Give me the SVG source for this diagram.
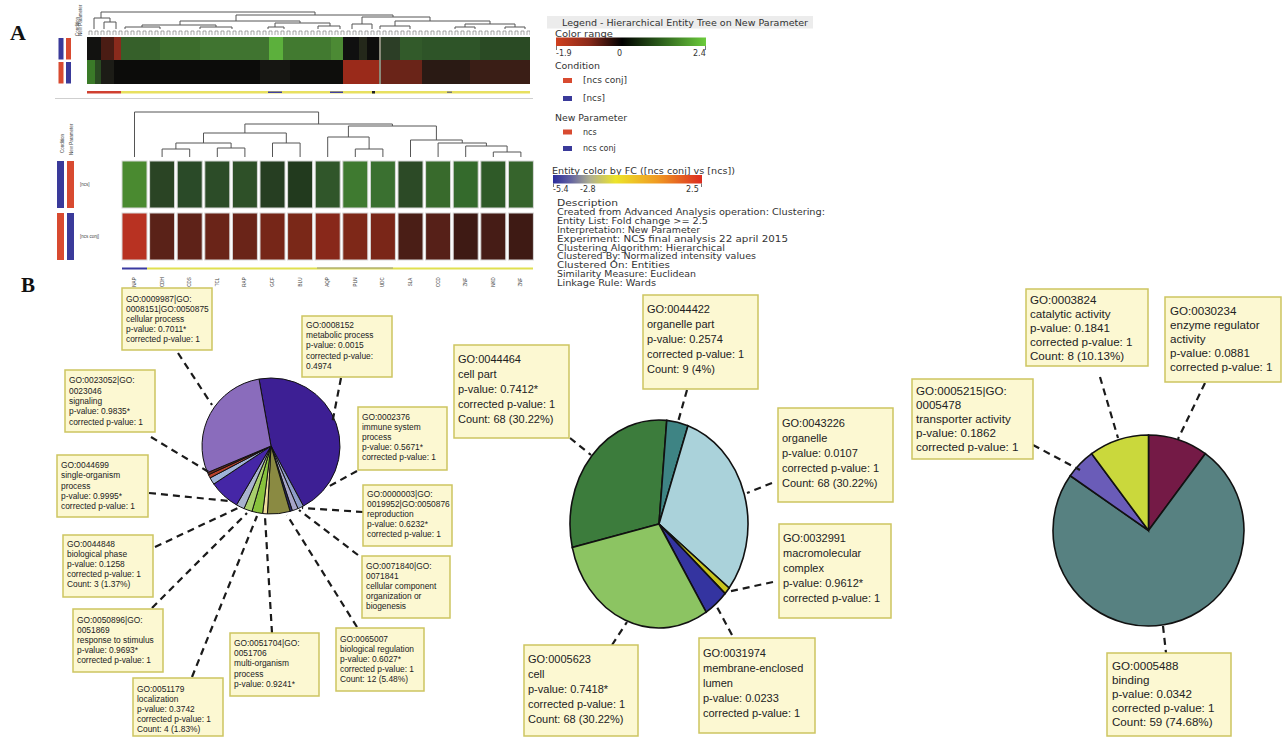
<svg xmlns="http://www.w3.org/2000/svg" width="1282" height="737" viewBox="0 0 1282 737">
<defs>
<linearGradient id="gRange" x1="0" x2="1" y1="0" y2="0">
<stop offset="0" stop-color="#d0401f"/><stop offset="0.22" stop-color="#8a2a1a"/><stop offset="0.44" stop-color="#000"/><stop offset="0.7" stop-color="#2c5e1c"/><stop offset="1" stop-color="#6ccc3c"/>
</linearGradient>
<linearGradient id="gFC" x1="0" x2="1" y1="0" y2="0">
<stop offset="0" stop-color="#2c2c9c"/><stop offset="0.12" stop-color="#6464a0"/><stop offset="0.25" stop-color="#b0b090"/><stop offset="0.42" stop-color="#ece42a"/><stop offset="0.7" stop-color="#f09a22"/><stop offset="1" stop-color="#dc2c20"/>
</linearGradient>
<pattern id="forks" x="88" y="29" width="6" height="6" patternUnits="userSpaceOnUse">
<path d="M1,6 V2 H4 V6" stroke="#6a6a6a" fill="none" stroke-width="0.6"/>
</pattern>
</defs>
<style>
.lbl{font-family:"Liberation Serif","Times New Roman",serif;font-weight:bold;fill:#111}
.leg{font-family:"DejaVu Sans","Liberation Sans",sans-serif;font-size:8px;fill:#333}
.tiny{font-family:"Liberation Sans",Arial,sans-serif;font-size:4.5px;fill:#444}
.dend{stroke:#555;fill:none;stroke-width:1}
.box{fill:#fcf8d2;stroke:#cdc560;stroke-width:1.5}
.t1{font-family:"Liberation Sans",Arial,sans-serif;font-size:8.4px;fill:#222}
.t2{font-family:"Liberation Sans",Arial,sans-serif;font-size:11px;fill:#222}
.t3{font-family:"Liberation Sans",Arial,sans-serif;font-size:11.6px;fill:#222}
.dash{stroke:#1a1a1a;stroke-width:2.2;stroke-dasharray:7 5;fill:none}
.sl{stroke:#111;stroke-width:1}
.sl2{stroke:#111;stroke-width:1.6}
.cell{stroke:#d8d8d8;stroke-width:1}
</style>
<rect width="1282" height="737" fill="#fff"/>

<!-- Panel A top heatmap -->
<g id="panelA-label"><text class="lbl" x="10" y="40" font-size="22">A</text></g>
<g id="top-heatmap">
<rect x="58.5" y="38" width="5" height="21.5" fill="#3a3a9a"/>
<rect x="66" y="38" width="5" height="21.5" fill="#d84a30"/>
<rect x="58.5" y="62" width="5" height="21.5" fill="#d84a30"/>
<rect x="66" y="62" width="5" height="21.5" fill="#3a3a9a"/>
<text class="tiny" font-size="3.2" transform="translate(78.5,36) rotate(-90)">Condition</text>
<text class="tiny" font-size="3.2" transform="translate(82,36) rotate(-90)">New Parameter</text>
<!-- row 1 -->
<rect x="87" y="37" width="14" height="23" fill="#121210"/>
<rect x="101" y="37" width="13" height="23" fill="#4a1c14"/>
<rect x="114" y="37" width="7" height="23" fill="#8a2a1c"/>
<rect x="121" y="37" width="39" height="23" fill="#36602a"/>
<rect x="160" y="37" width="40" height="23" fill="#3c6c2c"/>
<rect x="200" y="37" width="69" height="23" fill="#407430"/>
<rect x="269" y="37" width="14" height="23" fill="#5cb03c"/>
<rect x="283" y="37" width="48" height="23" fill="#427a30"/>
<rect x="331" y="37" width="12" height="23" fill="#4c8a34"/>
<rect x="343" y="37" width="16" height="23" fill="#101010"/>
<rect x="359" y="37" width="8" height="23" fill="#24281a"/>
<rect x="367" y="37" width="12" height="23" fill="#0e0e0c"/>
<rect x="379" y="37" width="2" height="47" fill="#8a8a7a"/>
<rect x="381" y="37" width="19" height="23" fill="#2c3e26"/>
<rect x="400" y="37" width="22" height="23" fill="#325a2a"/>
<rect x="422" y="37" width="58" height="23" fill="#2e5428"/>
<rect x="480" y="37" width="50" height="23" fill="#2a4a24"/>
<!-- row 2 -->
<rect x="87" y="60" width="8" height="24" fill="#3a7a28"/>
<rect x="95" y="60" width="6" height="24" fill="#2a4a22"/>
<rect x="101" y="60" width="13" height="24" fill="#1c1c16"/>
<rect x="114" y="60" width="146" height="24" fill="#0c0c0a"/>
<rect x="260" y="60" width="30" height="24" fill="#161612"/>
<rect x="290" y="60" width="53" height="24" fill="#0e0e0c"/>
<rect x="343" y="60" width="36" height="24" fill="#9a2a1a"/>
<rect x="381" y="60" width="41" height="24" fill="#6a2418"/>
<rect x="422" y="60" width="48" height="24" fill="#2a1a14"/>
<rect x="470" y="60" width="60" height="24" fill="#3a1e16"/>
<!-- color bar -->
<rect x="87" y="91" width="34" height="2.5" fill="#d04030"/>
<rect x="121" y="91" width="409" height="2.5" fill="#e8e060"/>
<rect x="268" y="91.5" width="14" height="1.5" fill="#4040a0"/>
<rect x="330" y="91.5" width="13" height="1.5" fill="#4040a0"/>
<rect x="372" y="91" width="3" height="2.5" fill="#222"/>
<rect x="447" y="91.5" width="5" height="1.5" fill="#777"/>
<line x1="55" y1="98.5" x2="533" y2="98.5" stroke="#cfcfcf" stroke-width="1"/>
</g>
<g id="top-dendrogram">
<rect x="88" y="29" width="442" height="6" fill="url(#forks)"/>
<path class="dend" d="M101,18 V12 H315 V15 M94,29 V18 H110 V22 M104,29 V22 H116 V29 M236,21 V15 H393 V17 M180,25 V21 H300 V23 M142,27 V25 H216 V27 M125,29 V27 H160 V29 M200,29 V27 H232 V29 M275,27 V23 H330 V26 M268,29 V27 H284 V29 M318,29 V26 H340 V29 M362,24 V17 H430 V21 M352,29 V24 H372 V29 M395,26 V21 H490 V24 M380,29 V26 H410 V29 M465,27 V24 H515 V27 M455,29 V27 H475 V29 M505,29 V27 H525 V29"/>
</g>

<!-- Legend -->
<g id="legend">
<rect x="547" y="16" width="266" height="12.5" fill="#ececec"/>
<text class="leg" x="562" y="25.5" textLength="246" lengthAdjust="spacingAndGlyphs">Legend - Hierarchical Entity Tree on New Parameter</text>
<text class="leg" x="555" y="36.5" textLength="58" lengthAdjust="spacingAndGlyphs">Color range</text>
<rect x="556" y="37.5" width="150" height="8.5" fill="url(#gRange)"/>
<path d="M556.5,46 V50 M705.5,46 V50" stroke="#555" stroke-width="0.8"/>
<text class="leg" x="556" y="55.5">-1.9</text>
<text class="leg" x="617" y="55.5">0</text>
<text class="leg" x="693" y="55.5">2.4</text>
<text class="leg" x="555" y="69" textLength="45" lengthAdjust="spacingAndGlyphs">Condition</text>
<rect x="563" y="78" width="9" height="5" fill="#d84a30"/>
<text class="leg" x="583" y="83" textLength="44" lengthAdjust="spacingAndGlyphs">[ncs conj]</text>
<rect x="563" y="96" width="9" height="5" fill="#3a3a9a"/>
<text class="leg" x="583" y="101" textLength="22" lengthAdjust="spacingAndGlyphs">[ncs]</text>
<text class="leg" x="555" y="120.5" textLength="72" lengthAdjust="spacingAndGlyphs">New Parameter</text>
<rect x="563" y="129.5" width="9" height="5" fill="#d84a30"/>
<text class="leg" x="583" y="134.5">ncs</text>
<rect x="563" y="146" width="9" height="5" fill="#3a3a9a"/>
<text class="leg" x="583" y="151">ncs conj</text>
<text class="leg" x="552" y="173.5" textLength="183" lengthAdjust="spacingAndGlyphs">Entity color by FC ([ncs conj] vs [ncs])</text>
<rect x="553" y="175" width="149" height="8.5" fill="url(#gFC)"/>
<path d="M553.5,183.5 V187 M701.5,183.5 V187" stroke="#555" stroke-width="0.8"/>
<text class="leg" x="553" y="192">-5.4</text>
<text class="leg" x="580" y="192">-2.8</text>
<text class="leg" x="686" y="192">2.5</text>
<text class="leg" x="557" y="205.5" textLength="61" lengthAdjust="spacingAndGlyphs">Description</text>
<text class="leg" x="557" y="214.5" textLength="268" lengthAdjust="spacingAndGlyphs">Created from Advanced Analysis operation: Clustering:</text>
<text class="leg" x="557" y="224" textLength="151" lengthAdjust="spacingAndGlyphs">Entity List: Fold change &gt;= 2.5</text>
<text class="leg" x="557" y="233" textLength="143" lengthAdjust="spacingAndGlyphs">Interpretation: New Parameter</text>
<text class="leg" x="557" y="241.5" textLength="231" lengthAdjust="spacingAndGlyphs">Experiment: NCS final analysis 22 april 2015</text>
<text class="leg" x="557" y="250.5" textLength="168" lengthAdjust="spacingAndGlyphs">Clustering Algorithm: Hierarchical</text>
<text class="leg" x="557" y="259" textLength="199" lengthAdjust="spacingAndGlyphs">Clustered By: Normalized intensity values</text>
<text class="leg" x="557" y="268" textLength="113" lengthAdjust="spacingAndGlyphs">Clustered On: Entities</text>
<text class="leg" x="557" y="276.5" textLength="139" lengthAdjust="spacingAndGlyphs">Similarity Measure: Euclidean</text>
<text class="leg" x="557" y="285.5" textLength="99" lengthAdjust="spacingAndGlyphs">Linkage Rule: Wards</text>
</g>

<!-- Panel A lower heatmap -->
<g id="lower-heatmap">
<text class="tiny" font-size="5" transform="translate(63.5,153) rotate(-90)">Condition</text>
<text class="tiny" font-size="5" transform="translate(72.5,155) rotate(-90)">New Parameter</text>
<rect x="57" y="161" width="7" height="47" fill="#3a3a9a"/>
<rect x="67" y="161" width="7" height="47" fill="#d84a30"/>
<rect x="57" y="213" width="7" height="47" fill="#d84a30"/>
<rect x="67" y="213" width="7" height="47" fill="#3a3a9a"/>
<text class="tiny" x="80" y="186">[ncs]</text>
<text class="tiny" x="80" y="238">[ncs conj]</text>
<g class="cell">
<rect x="122" y="161" width="25" height="47" fill="#4a8a30"/>
<rect x="149.6" y="161" width="25" height="47" fill="#2a4424"/>
<rect x="177.2" y="161" width="25" height="47" fill="#2a4a28"/>
<rect x="204.8" y="161" width="25" height="47" fill="#2c4c28"/>
<rect x="232.4" y="161" width="25" height="47" fill="#2e5028"/>
<rect x="260" y="161" width="25" height="47" fill="#263e22"/>
<rect x="287.6" y="161" width="25" height="47" fill="#223a1e"/>
<rect x="315.2" y="161" width="25" height="47" fill="#30562a"/>
<rect x="342.8" y="161" width="25" height="47" fill="#3f7a30"/>
<rect x="370.4" y="161" width="25" height="47" fill="#3a7030"/>
<rect x="398" y="161" width="25" height="47" fill="#2c4a26"/>
<rect x="425.6" y="161" width="25" height="47" fill="#386a2c"/>
<rect x="453.2" y="161" width="25" height="47" fill="#346a2c"/>
<rect x="480.8" y="161" width="25" height="47" fill="#2f5a28"/>
<rect x="508.4" y="161" width="25" height="47" fill="#36642c"/>
<rect x="122" y="213" width="25" height="47" fill="#b83222"/>
<rect x="149.6" y="213" width="25" height="47" fill="#5a2218"/>
<rect x="177.2" y="213" width="25" height="47" fill="#5e2218"/>
<rect x="204.8" y="213" width="25" height="47" fill="#6a2418"/>
<rect x="232.4" y="213" width="25" height="47" fill="#6a2418"/>
<rect x="260" y="213" width="25" height="47" fill="#762618"/>
<rect x="287.6" y="213" width="25" height="47" fill="#7a2818"/>
<rect x="315.2" y="213" width="25" height="47" fill="#88281a"/>
<rect x="342.8" y="213" width="25" height="47" fill="#7e2818"/>
<rect x="370.4" y="213" width="25" height="47" fill="#7a2618"/>
<rect x="398" y="213" width="25" height="47" fill="#4a1e16"/>
<rect x="425.6" y="213" width="25" height="47" fill="#562018"/>
<rect x="453.2" y="213" width="25" height="47" fill="#3e1a14"/>
<rect x="480.8" y="213" width="25" height="47" fill="#461c16"/>
<rect x="508.4" y="213" width="25" height="47" fill="#3e1a14"/>
</g>
<rect x="122" y="267.5" width="25" height="2" fill="#3a3aa0"/>
<rect x="147" y="267.5" width="386" height="2" fill="#e0e050"/>
<rect x="317" y="267.5" width="76" height="1" fill="#9a9a80"/>
<rect x="122" y="288.5" width="90" height="1.5" fill="#e8e870"/>
<g class="tiny" text-anchor="middle">
<text transform="translate(136,282) rotate(-90)">NAP</text>
<text transform="translate(163.5,282) rotate(-90)">CDH</text>
<text transform="translate(191,282) rotate(-90)">CDS</text>
<text transform="translate(218.5,282) rotate(-90)">TCL</text>
<text transform="translate(246,282) rotate(-90)">RAP</text>
<text transform="translate(274,282) rotate(-90)">GCF</text>
<text transform="translate(301.5,282) rotate(-90)">BLU</text>
<text transform="translate(329,282) rotate(-90)">AQP</text>
<text transform="translate(356.5,282) rotate(-90)">PLN</text>
<text transform="translate(384,282) rotate(-90)">UDC</text>
<text transform="translate(412,282) rotate(-90)">SLA</text>
<text transform="translate(439.5,282) rotate(-90)">CCD</text>
<text transform="translate(467,282) rotate(-90)">ZNF</text>
<text transform="translate(494.5,282) rotate(-90)">NKD</text>
<text transform="translate(522,282) rotate(-90)">ZNF</text>
</g>
</g>
<g id="lower-dendrogram">
<path class="dend" d="M162.1,157 V149 H189.7 V157 M217.3,157 V148 H244.9 V157 M175.9,149 V143 H231.1 V148 M272.5,157 V143 H300.1 V157 M203.5,143 V133 H286.3 V143 M355.3,157 V149 H382.9 V157 M327.7,157 V137 H369.1 V149 M493.3,157 V152 H520.9 V157 M465.7,157 V146 H507.1 V152 M438.1,157 V143 H486.4 V146 M410.5,157 V140 H462.25 V143 M348.4,137 V126 H436.4 V140 M244.9,133 V124 H392.4 V126 M134.5,157 V112 H318.6 V124"/>
</g>

<g id="panelB-label"><text class="lbl" x="21" y="292" font-size="21">B</text></g>

<!-- Pie 1: biological process -->
<g id="pie1">
<path class="sl" fill="#3d1f94" d="M271,446 L259.02,379.03 A69,68 0 0,1 303.40,506.04 Z"/>
<path class="sl" fill="#8e9cc8" d="M271,446 L303.40,506.04 A69,68 0 0,1 297.96,508.60 Z"/>
<path class="sl" fill="#a6a4c8" d="M271,446 L297.96,508.60 A69,68 0 0,1 292.32,510.67 Z"/>
<path class="sl" fill="#2b2a6a" d="M271,446 L292.32,510.67 A69,68 0 0,1 290.02,511.37 Z"/>
<path class="sl" fill="#8a8a42" d="M271,446 L290.02,511.37 A69,68 0 0,1 267.39,513.90 Z"/>
<path class="sl" fill="#eedc9c" d="M271,446 L267.39,513.90 A69,68 0 0,1 262.59,513.49 Z"/>
<path class="sl" fill="#88c23c" d="M271,446 L262.59,513.49 A69,68 0 0,1 251.98,511.37 Z"/>
<path class="sl" fill="#a8cf6c" d="M271,446 L251.98,511.37 A69,68 0 0,1 244.04,508.60 Z"/>
<path class="sl" fill="#a9b3cf" d="M271,446 L244.04,508.60 A69,68 0 0,1 236.50,504.89 Z"/>
<path class="sl" fill="#4526a6" d="M271,446 L236.50,504.89 A69,68 0 0,1 213.80,484.03 Z"/>
<path class="sl" fill="#9fb2d8" d="M271,446 L213.80,484.03 A69,68 0 0,1 210.08,477.93 Z"/>
<path class="sl" fill="#b8402a" d="M271,446 L210.08,477.93 A69,68 0 0,1 208.46,474.74 Z"/>
<path class="sl" fill="#6a2a20" d="M271,446 L208.46,474.74 A69,68 0 0,1 207.49,472.57 Z"/>
<path class="sl" fill="#8a6cbc" d="M271,446 L207.49,472.57 A69,68 0 0,1 259.02,379.03 Z"/>
</g>
<g id="pie1-connectors">
<path class="dash" d="M178,353 L212,405"/>
<path class="dash" d="M151,437 L212,474"/>
<path class="dash" d="M149,493 L229,501"/>
<path class="dash" d="M155,547 L238,508"/>
<path class="dash" d="M152,608 L247,513"/>
<path class="dash" d="M192,677 L257,516"/>
<path class="dash" d="M272,633 L265,517"/>
<path class="dash" d="M357,627 L287,515"/>
<path class="dash" d="M358,555 L299,510"/>
<path class="dash" d="M363,512 L302,508"/>
<path class="dash" d="M357,471 L326,488"/>
<path class="dash" d="M341,378 L332,424"/>
</g>
<g id="go-cellular-process">
<rect class="box" x="122" y="288" width="90" height="62"/>
<text class="t1"><tspan x="126" y="302">GO:0009987|GO:</tspan><tspan x="126" y="312">0008151|GO:0050875</tspan><tspan x="126" y="322">cellular process</tspan><tspan x="126" y="332">p-value: 0.7011*</tspan><tspan x="126" y="342">corrected p-value: 1</tspan></text>
</g>
<g id="go-signaling">
<rect class="box" x="65" y="370" width="90" height="62"/>
<text class="t1"><tspan x="69" y="383">GO:0023052|GO:</tspan><tspan x="69" y="393.5">0023046</tspan><tspan x="69" y="404">signaling</tspan><tspan x="69" y="414">p-value: 0.9835*</tspan><tspan x="69" y="424.5">corrected p-value: 1</tspan></text>
</g>
<g id="go-single-organism">
<rect class="box" x="57" y="455" width="91" height="62"/>
<text class="t1"><tspan x="61" y="468">GO:0044699</tspan><tspan x="61" y="478">single-organism</tspan><tspan x="61" y="488.5">process</tspan><tspan x="61" y="498.5">p-value: 0.9995*</tspan><tspan x="61" y="509">corrected p-value: 1</tspan></text>
</g>
<g id="go-biological-phase">
<rect class="box" x="63" y="535" width="90" height="62"/>
<text class="t1"><tspan x="67" y="547">GO:0044848</tspan><tspan x="67" y="557">biological phase</tspan><tspan x="67" y="567">p-value: 0.1258</tspan><tspan x="67" y="577">corrected p-value: 1</tspan><tspan x="67" y="587">Count: 3 (1.37%)</tspan></text>
</g>
<g id="go-response">
<rect class="box" x="73" y="609" width="90" height="63"/>
<text class="t1"><tspan x="77" y="622.5">GO:0050896|GO:</tspan><tspan x="77" y="632.5">0051869</tspan><tspan x="77" y="642.5">response to stimulus</tspan><tspan x="77" y="652.5">p-value: 0.9693*</tspan><tspan x="77" y="662.5">corrected p-value: 1</tspan></text>
</g>
<g id="go-localization">
<rect class="box" x="133" y="678" width="90" height="58"/>
<text class="t1"><tspan x="137" y="691.5">GO:0051179</tspan><tspan x="137" y="701.5">localization</tspan><tspan x="137" y="711.5">p-value: 0.3742</tspan><tspan x="137" y="721.5">corrected p-value: 1</tspan><tspan x="137" y="731.5">Count: 4 (1.83%)</tspan></text>
</g>
<g id="go-multi-organism">
<rect class="box" x="230" y="633" width="89" height="63"/>
<text class="t1"><tspan x="234" y="646">GO:0051704|GO:</tspan><tspan x="234" y="656">0051706</tspan><tspan x="234" y="666">multi-organism</tspan><tspan x="234" y="676.5">process</tspan><tspan x="234" y="687">p-value: 0.9241*</tspan></text>
</g>
<g id="go-biological-regulation">
<rect class="box" x="336" y="628" width="88" height="63"/>
<text class="t1"><tspan x="340" y="641.5">GO:0065007</tspan><tspan x="340" y="651.5">biological regulation</tspan><tspan x="340" y="661.5">p-value: 0.6027*</tspan><tspan x="340" y="671.5">corrected p-value: 1</tspan><tspan x="340" y="681.5">Count: 12 (5.48%)</tspan></text>
</g>
<g id="go-cellular-component">
<rect class="box" x="362" y="556" width="88" height="62"/>
<text class="t1"><tspan x="366" y="569">GO:0071840|GO:</tspan><tspan x="366" y="579">0071841</tspan><tspan x="366" y="589">cellular component</tspan><tspan x="366" y="599">organization or</tspan><tspan x="366" y="609">biogenesis</tspan></text>
</g>
<g id="go-reproduction">
<rect class="box" x="363" y="485" width="89" height="61"/>
<text class="t1"><tspan x="367" y="496.5">GO:0000003|GO:</tspan><tspan x="367" y="506.5">0019952|GO:0050876</tspan><tspan x="367" y="516.5">reproduction</tspan><tspan x="367" y="526.5">p-value: 0.6232*</tspan><tspan x="367" y="536.5">corrected p-value: 1</tspan></text>
</g>
<g id="go-immune">
<rect class="box" x="358" y="407" width="89" height="63"/>
<text class="t1"><tspan x="362" y="420">GO:0002376</tspan><tspan x="362" y="430">immune system</tspan><tspan x="362" y="440">process</tspan><tspan x="362" y="450">p-value: 0.5671*</tspan><tspan x="362" y="460">corrected p-value: 1</tspan></text>
</g>
<g id="go-metabolic">
<rect class="box" x="302" y="316" width="90" height="61"/>
<text class="t1"><tspan x="306" y="328">GO:0008152</tspan><tspan x="306" y="338">metabolic process</tspan><tspan x="306" y="348">p-value: 0.0015</tspan><tspan x="306" y="358.5">corrected p-value:</tspan><tspan x="306" y="369">0.4974</tspan></text>
</g>

<!-- Pie 2: cellular component -->
<g id="pie2">
<path class="sl2" fill="#3c7c3c" d="M659,524 L572.28,547.40 A89,104 0 0,1 666.76,420.40 Z"/>
<path class="sl2" fill="#3e8484" d="M659,524 L666.76,420.40 A89,104 0 0,1 687.98,425.67 Z"/>
<path class="sl2" fill="#aad2da" d="M659,524 L687.98,425.67 A89,104 0 0,1 729.13,588.03 Z"/>
<path class="sl2" fill="#c8c41e" d="M659,524 L729.13,588.03 A89,104 0 0,1 725.14,593.59 Z"/>
<path class="sl2" fill="#3434a0" d="M659,524 L725.14,593.59 A89,104 0 0,1 706.16,612.19 Z"/>
<path class="sl2" fill="#8cc462" d="M659,524 L706.16,612.19 A89,104 0 0,1 572.28,547.40 Z"/>
</g>
<g id="pie2-connectors">
<path class="dash" d="M570,438 L591,455"/>
<path class="dash" d="M687,390 L678,422"/>
<path class="dash" d="M772,483 L747,493"/>
<path class="dash" d="M773,582 L727,592"/>
<path class="dash" d="M732,635 L717,607"/>
<path class="dash" d="M612,645 L627,622"/>
</g>
<g id="go-cell-part">
<rect class="box" x="454" y="345" width="115" height="93"/>
<text class="t2"><tspan x="458" y="363">GO:0044464</tspan><tspan x="458" y="378">cell part</tspan><tspan x="458" y="393">p-value: 0.7412*</tspan><tspan x="458" y="408">corrected p-value: 1</tspan><tspan x="458" y="423">Count: 68 (30.22%)</tspan></text>
</g>
<g id="go-organelle-part">
<rect class="box" x="643" y="295" width="115" height="94"/>
<text class="t2"><tspan x="647" y="313">GO:0044422</tspan><tspan x="647" y="328">organelle part</tspan><tspan x="647" y="343">p-value: 0.2574</tspan><tspan x="647" y="358">corrected p-value: 1</tspan><tspan x="647" y="373">Count: 9 (4%)</tspan></text>
</g>
<g id="go-organelle">
<rect class="box" x="778" y="408" width="115" height="94"/>
<text class="t2"><tspan x="782" y="427">GO:0043226</tspan><tspan x="782" y="442">organelle</tspan><tspan x="782" y="457">p-value: 0.0107</tspan><tspan x="782" y="472">corrected p-value: 1</tspan><tspan x="782" y="487">Count: 68 (30.22%)</tspan></text>
</g>
<g id="go-macromolecular">
<rect class="box" x="779" y="524" width="112" height="94"/>
<text class="t2"><tspan x="783" y="542">GO:0032991</tspan><tspan x="783" y="557">macromolecular</tspan><tspan x="783" y="572">complex</tspan><tspan x="783" y="587">p-value: 0.9612*</tspan><tspan x="783" y="602">corrected p-value: 1</tspan></text>
</g>
<g id="go-cell">
<rect class="box" x="524" y="645" width="114" height="91"/>
<text class="t2"><tspan x="528" y="663">GO:0005623</tspan><tspan x="528" y="678">cell</tspan><tspan x="528" y="693">p-value: 0.7418*</tspan><tspan x="528" y="708">corrected p-value: 1</tspan><tspan x="528" y="723">Count: 68 (30.22%)</tspan></text>
</g>
<g id="go-membrane">
<rect class="box" x="699" y="638" width="116" height="95"/>
<text class="t2"><tspan x="703" y="657">GO:0031974</tspan><tspan x="703" y="672">membrane-enclosed</tspan><tspan x="703" y="687">lumen</tspan><tspan x="703" y="702">p-value: 0.0233</tspan><tspan x="703" y="717">corrected p-value: 1</tspan></text>
</g>

<!-- Pie 3: molecular function -->
<g id="pie3">
<path class="sl2" fill="#741a46" d="M1148.5,530.5 L1148.5,435 A95.5,95.5 0 0,1 1205.30,453.73 Z"/>
<path class="sl2" fill="#578181" d="M1148.5,530.5 L1205.30,453.73 A95.5,95.5 0 1,1 1070.27,475.72 Z"/>
<path class="sl2" fill="#6a5cb8" d="M1148.5,530.5 L1070.27,475.72 A95.5,95.5 0 0,1 1091.70,453.73 Z"/>
<path class="sl2" fill="#cad83c" d="M1148.5,530.5 L1091.70,453.73 A95.5,95.5 0 0,1 1148.5,435 Z"/>
</g>
<g id="pie3-connectors">
<path class="dash" d="M1033,445 L1080,470"/>
<path class="dash" d="M1100,377 L1118,438"/>
<path class="dash" d="M1205,383 L1178,439"/>
<path class="dash" d="M1163,626 L1166,653"/>
</g>
<g id="go-transporter">
<rect class="box" x="912" y="379" width="121" height="80"/>
<text class="t3"><tspan x="916" y="395">GO:0005215|GO:</tspan><tspan x="916" y="409">0005478</tspan><tspan x="916" y="423">transporter activity</tspan><tspan x="916" y="437">p-value: 0.1862</tspan><tspan x="916" y="451">corrected p-value: 1</tspan></text>
</g>
<g id="go-catalytic">
<rect class="box" x="1026" y="289" width="122" height="77"/>
<text class="t3"><tspan x="1030" y="304">GO:0003824</tspan><tspan x="1030" y="318">catalytic activity</tspan><tspan x="1030" y="332">p-value: 0.1841</tspan><tspan x="1030" y="346">corrected p-value: 1</tspan><tspan x="1030" y="360">Count: 8 (10.13%)</tspan></text>
</g>
<g id="go-enzyme">
<rect class="box" x="1165" y="297" width="116" height="85"/>
<text class="t3"><tspan x="1170" y="315">GO:0030234</tspan><tspan x="1170" y="329">enzyme regulator</tspan><tspan x="1170" y="343">activity</tspan><tspan x="1170" y="357">p-value: 0.0881</tspan><tspan x="1170" y="371">corrected p-value: 1</tspan></text>
</g>
<g id="go-binding">
<rect class="box" x="1107" y="653" width="124" height="83"/>
<text class="t3"><tspan x="1112" y="670">GO:0005488</tspan><tspan x="1112" y="684">binding</tspan><tspan x="1112" y="698">p-value: 0.0342</tspan><tspan x="1112" y="712">corrected p-value: 1</tspan><tspan x="1112" y="726">Count: 59 (74.68%)</tspan></text>
</g>
</svg>
